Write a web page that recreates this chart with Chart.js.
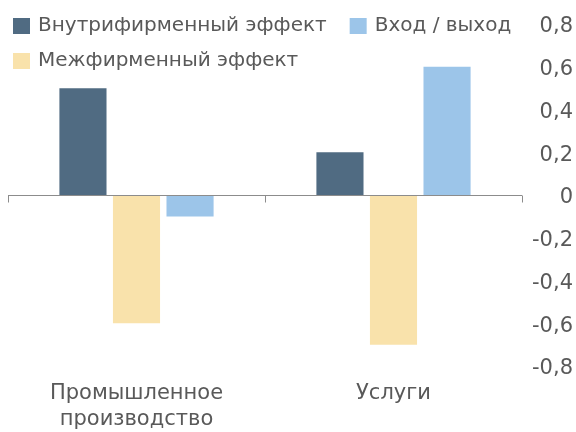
<!DOCTYPE html>
<html lang="ru">
<head>
<meta charset="utf-8">
<script src="https://cdn.jsdelivr.net/npm/chart.js@4/dist/chart.umd.min.js"></script>
<style>
  html, body { margin: 0; padding: 0; background: #fff; }
  #wrap { width: 576px; height: 432px; }
</style>
</head>
<body>
<div id="wrap"><canvas id="chart" width="576" height="432"></canvas></div>
<script>
// данные
const categories = [["Промышленное", "производство"], "Услуги"];
const intraFirm = [0.5, 0.2];     // Внутрифирменный эффект
const interFirm = [-0.6, -0.7];   // Межфирменный эффект
const entryExit = [-0.1, 0.6];    // Вход / выход
const yMin = -0.8;
const yMax = 0.8;
const yStep = 0.2;

const FONT = "'DejaVu Sans', sans-serif";
const TEXT_COLOR = "#595959";

// ось на нуле и засечки между категориями
const zeroAxis = {
    id: "zeroAxis",
    afterDatasetsDraw(chart) {
        const { ctx, scales: { x, y } } = chart;
        const y0 = Math.round(y.getPixelForValue(0)) + 0.5;
        const n = chart.data.labels.length;
        ctx.save();
        ctx.strokeStyle = "#8c8c8c";
        ctx.lineWidth = 1;
        ctx.beginPath();
        ctx.moveTo(x.left, y0);
        ctx.lineTo(x.right, y0);
        for (let i = 0; i <= n; i++) {
            const px = Math.round(x.left + i * x.width / n) + 0.5;
            ctx.moveTo(px, y0);
            ctx.lineTo(px, y0 + 7);
        }
        ctx.stroke();
        ctx.restore();
    }
};

// легенда в две строки, как в оригинале
const legendRows = {
    id: "legendRows",
    afterDraw(chart) {
        const { ctx } = chart;
        const ds = chart.data.datasets;
        const rows = [[0, 2], [1]];
        const box = 17;
        ctx.save();
        ctx.font = "20px " + FONT;
        ctx.textBaseline = "middle";
        ctx.textAlign = "left";
        rows.forEach((row, r) => {
            let x = 13;
            const cy = 26 + r * 35;
            row.forEach(i => {
                ctx.fillStyle = ds[i].backgroundColor;
                ctx.fillRect(x, cy - 8, box, 16);
                ctx.fillStyle = TEXT_COLOR;
                ctx.fillText(ds[i].label, x + box + 8, cy);
                x += box + 8 + ctx.measureText(ds[i].label).width + 23;
            });
        });
        ctx.restore();
    }
};

const ctx = document.getElementById("chart").getContext("2d");
new Chart(ctx, {
    type: "bar",
    data: {
        labels: categories,
        datasets: [
            { label: "Внутрифирменный эффект", data: intraFirm, backgroundColor: "#506b82" },
            { label: "Межфирменный эффект", data: interFirm, backgroundColor: "#f9e2ab" },
            { label: "Вход / выход", data: entryExit, backgroundColor: "#9cc5e9" }
        ]
    },
    options: {
        responsive: false,
        animation: false,
        devicePixelRatio: 1,
        categoryPercentage: 0.625,
        barPercentage: 0.88,
        layout: { padding: { top: 24, left: 8, right: 3, bottom: 0 } },
        plugins: {
            legend: { display: false },
            tooltip: { enabled: false }
        },
        scales: {
            x: {
                grid: { display: false, drawTicks: false },
                border: { display: false },
                afterFit(scale) { scale.height = 66; },
                ticks: {
                    color: TEXT_COLOR,
                    padding: 14,
                    maxRotation: 0,
                    autoSkip: false,
                    font: { family: FONT, size: 21, lineHeight: 1.26 }
                }
            },
            y: {
                position: "right",
                min: yMin,
                max: yMax,
                grid: { display: false, drawTicks: false },
                border: { display: false },
                afterFit(scale) { scale.width = 51; },
                ticks: {
                    stepSize: yStep,
                    color: TEXT_COLOR,
                    crossAlign: "far",
                    labelOffset: 3,
                    font: { family: FONT, size: 21 },
                    callback: v => Math.abs(v) < 1e-9 ? "0" : v.toFixed(1).replace(".", ",")
                }
            }
        }
    },
    plugins: [zeroAxis, legendRows]
});
</script>
</body>
</html>
